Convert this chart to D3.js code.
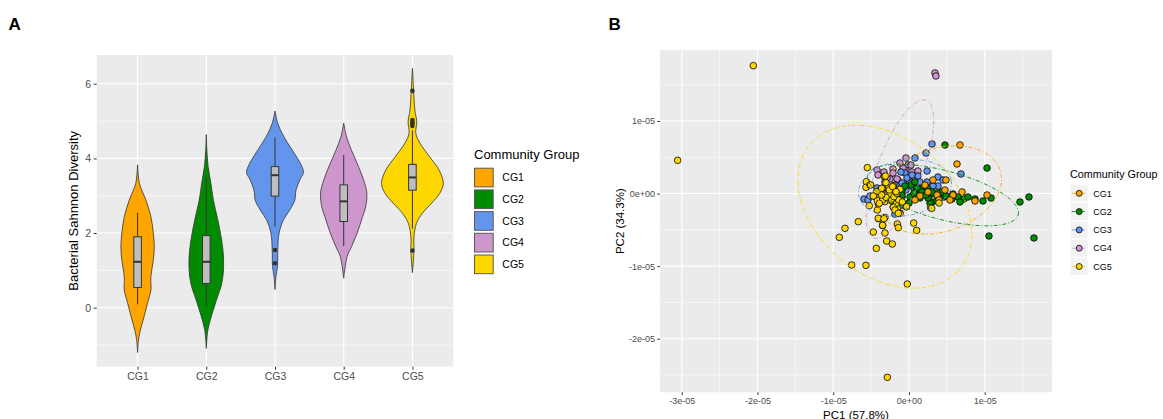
<!DOCTYPE html>
<html><head><meta charset="utf-8">
<script src="https://cdn.jsdelivr.net/npm/d3@7"></script>
<style>body{margin:0;background:#fff;} svg{display:block;}</style>
</head><body><svg id="c" width="1163" height="419"></svg>
<script>
// ---------------- DATA ----------------
const groups = ["CG1","CG2","CG3","CG4","CG5"];
const groupColors = ["#FFA500","#008B00","#6495ED","#CD96CD","#FFD700"];

// Panel A: violin profiles [shannon value, relative half-width]
const profileCG1 = [[3.83,0],[3.33,0.06],[2.88,0.27],[2.44,0.43],[1.99,0.51],[1.63,0.54],[1.28,0.51],[0.83,0.43],[0.47,0.43],[0.12,0.32],[-0.24,0.21],[-0.6,0.09],[-0.86,0.03],[-1.2,0]];
const profileCG2 = [[4.64,0],[4.2,0.02],[3.78,0.06],[3.33,0.15],[2.88,0.23],[2.44,0.35],[1.99,0.46],[1.54,0.54],[1.10,0.56],[0.65,0.50],[0.21,0.33],[-0.24,0.16],[-0.6,0.05],[-1.09,0]];
const profileCG3 = [[5.27,0],[4.94,0.09],[4.67,0.23],[4.40,0.42],[4.04,0.70],[3.78,0.87],[3.62,0.92],[3.42,0.80],[3.15,0.68],[2.88,0.64],[2.62,0.48],[2.35,0.27],[1.99,0.13],[1.54,0.09],[1.10,0.08],[0.83,0.03],[0.49,0]];
const profileCG4 = [[4.95,0],[4.58,0.09],[4.22,0.25],[3.78,0.48],[3.33,0.68],[3.06,0.75],[2.70,0.71],[2.44,0.61],[1.99,0.43],[1.63,0.25],[1.37,0.11],[0.79,0]];
const profileCG5 = [[6.41,0],[5.81,0.04],[5.29,0.08],[4.98,0.14],[4.67,0.11],[4.40,0.25],[4.04,0.56],[3.69,0.86],[3.33,1.0],[3.06,0.88],[2.80,0.62],[2.53,0.32],[2.26,0.13],[1.90,0.05],[1.53,0.05],[0.94,0]];

const whiskerLow  = [0.09, 0.05, 2.17, 1.65, 2.12];
const boxQ1       = [0.54, 0.65, 2.99, 2.31, 3.15];
const boxMedian   = [1.23, 1.23, 3.55, 2.85, 3.49];
const boxQ3       = [1.90, 1.93, 3.78, 3.29, 3.84];
const whiskerHigh = [2.54, 3.51, 4.56, 4.09, 4.75];
const outliers = [["CG3",1.545],["CG3",1.19],["CG5",5.81],["CG5",5.03],["CG5",4.97],["CG5",4.92],["CG5",4.87],["CG5",1.53]];

const yTicksA = [0,2,4,6];
const yMinorA = [-1,1,3,5];

// Panel B: PCA scores, units of 1e-05
const pointsCG4 = [[0.343,1.661],[0.356,1.620],[-0.040,0.490],[-0.013,0.393],[-0.422,0.325],[-0.409,0.256],[-0.211,0.339],[-0.053,0.325],[0.040,0.297],[0.119,0.311],[-0.251,0.201],[-0.145,0.187],[0.000,0.187],[-0.079,0.352],[0.026,0.393],[-0.211,0.283],[-0.290,0.215],[-0.158,0.201],[-0.330,0.297],[0.079,0.215],[-0.119,0.421]];
const pointsCG3 = [[0.304,0.683],[0.224,0.559],[0.079,0.490],[0.238,0.311],[0.119,0.242],[-0.053,0.283],[-0.106,0.297],[0.383,0.228],[0.449,0.187],[0.686,0.270],[0.383,0.104],[0.317,0.104],[0.238,0.159],[0.145,0.159],[0.013,0.146],[-0.092,0.146],[-0.185,0.118],[-0.251,0.049],[-0.317,0.077],[-0.211,0.022],[-0.145,-0.020],[-0.092,-0.047],[-0.224,-0.047],[-0.594,-0.075],[-0.541,-0.088],[-0.422,0.077],[-0.383,0.049],[-0.185,-0.282],[-0.119,-0.268],[-0.092,-0.158],[0.053,0.091],[-0.026,0.215],[0.040,0.256],[-0.317,0.159],[-0.343,0.077],[0.040,-0.033],[0.145,-0.006],[0.211,0.049],[-0.515,-0.033],[-0.040,0.049]];
const pointsCG2 = [[0.475,0.669],[1.030,0.352],[1.584,-0.047],[1.465,-0.116],[1.056,-0.585],[1.650,-0.612],[0.977,-0.102],[1.083,-0.061],[0.871,-0.075],[0.726,-0.075],[0.647,-0.047],[0.528,-0.047],[0.462,-0.047],[0.383,-0.047],[0.436,0.022],[0.370,0.008],[0.304,-0.006],[0.304,-0.116],[0.370,-0.102],[0.119,0.063],[0.185,0.077],[0.238,0.077],[0.304,0.022],[0.488,-0.033],[0.026,0.118],[-0.092,0.049],[0.106,0.077],[0.172,0.022],[0.013,-0.047],[0.000,-0.130],[0.277,-0.130],[0.145,-0.061],[0.251,-0.061],[-0.185,-0.047],[-0.092,-0.020],[0.581,-0.006],[0.779,-0.047],[0.224,-0.020],[0.066,0.008],[-0.053,0.104],[-0.251,0.008],[0.568,-0.075],[0.673,-0.116],[0.079,0.160]];
const pointsCG1 = [[0.673,0.669],[0.634,0.407],[0.488,0.187],[0.581,-0.020],[1.030,-0.020],[0.871,-0.102],[0.251,0.022],[0.370,-0.020],[0.396,-0.088],[0.145,-0.033],[0.475,0.049],[0.700,0.022],[0.541,-0.088],[0.079,-0.088],[0.211,0.118],[0.317,0.187]];
const pointsCG5 = [[-2.055,1.762],[-3.054,0.458],[-0.286,-2.532],[-0.550,0.357],[-0.845,-0.479],[-0.920,-0.603],[-0.669,-0.387],[-0.757,-0.984],[-0.568,-0.989],[-0.022,-1.246],[-0.431,-0.755],[-0.295,-0.654],[-0.220,-0.695],[-0.317,-0.543],[-0.471,-0.530],[-0.348,-0.442],[-0.400,-0.346],[-0.317,-0.328],[-0.154,-0.419],[-0.141,-0.470],[0.062,-0.406],[0.101,-0.507],[0.286,-0.194],[0.396,-0.130],[-0.040,-0.181],[-0.563,0.164],[-0.568,0.086],[-0.515,0.118],[-0.418,-0.226],[-0.405,-0.144],[-0.427,0.026],[-0.383,-0.065],[-0.317,-0.112],[-0.251,-0.089],[-0.326,0.232],[-0.304,0.150],[-0.207,-0.181],[-0.154,-0.203],[-0.119,-0.089],[-0.295,-0.020],[-0.238,-0.065],[-0.163,-0.020],[-0.119,-0.272],[-0.273,0.073],[-0.251,-0.006],[-0.229,-0.088],[-0.163,-0.134],[-0.207,-0.189],[-0.136,-0.088],[-0.088,-0.116],[-0.119,0.059],[-0.185,-0.226],[-0.348,-0.437],[-0.031,-0.181],[-0.207,0.108],[-0.260,0.049],[-0.360,0.073],[-0.449,-0.043],[-0.418,-0.102],[-0.348,-0.088],[-0.392,-0.134],[-0.304,-0.051],[-0.198,-0.043],[-0.163,0.004],[-0.506,0.118],[-0.471,-0.033],[-0.524,-0.167],[-0.405,-0.341],[-0.330,-0.346],[-0.312,0.242],[-0.360,-0.020],[-0.216,0.095],[-0.172,0.026],[-0.141,-0.272],[0.300,-0.203]];

// 95% ellipses per group: centre x, centre y, semi-axes, rotation (deg), units of 1e-05
const ellipseCX = [0.409, 0.449, -0.053, -0.119, -0.317];
const ellipseCY = [0.049, -0.020, 0.077, 0.338, -0.181];
const ellipseA  = [0.84, 1.03, 0.62, 1.01, 1.31];
const ellipseB  = [0.57, 0.335, 0.38, 0.30, 0.93];
const ellipseRot= [20, -15.5, 10, 70, -43];

const xTicksB = [-3,-2,-1,0,1];
const xTickLabelsB = ["-3e-05","-2e-05","-1e-05","0e+00","1e-05"];
const xMinorB = [-2.5,-1.5,-0.5,0.5,1.5];
const yTicksB = [-2,-1,0,1];
const yTickLabelsB = ["-2e-05","-1e-05","0e+00","1e-05"];
const yMinorB = [-2.5,-1.5,-0.5,0.5,1.5];

// ---------------- DRAW ----------------
const FONT = "'Liberation Sans', Arial, Helvetica, sans-serif";
const svg = d3.select("#c").attr("font-family", FONT);

// Panel letters
svg.append("text").attr("x",8.5).attr("y",29.5).attr("font-size",17).attr("font-weight","bold").text("A");
svg.append("text").attr("x",608.5).attr("y",29.5).attr("font-size",17).attr("font-weight","bold").text("B");

function styleAxis(g, fs){
  g.attr("font-family", FONT);
  g.select(".domain").remove();
  g.selectAll(".tick line").attr("stroke","#333333").attr("stroke-width",1);
  g.selectAll(".tick text").attr("fill","#4D4D4D").attr("font-size",fs);
}

// ===== Panel A =====
const PA = {l:96.7, r:453.3, t:55, b:366.7};
const xA = d3.scalePoint().domain(groups).range([PA.l, PA.r]).padding(0.595);
const yA = d3.scaleLinear().domain([-1.58, 6.77]).range([PA.b, PA.t]);
const gA = svg.append("g");
gA.append("rect").attr("x",PA.l).attr("y",PA.t).attr("width",PA.r-PA.l).attr("height",PA.b-PA.t).attr("fill","#EBEBEB");
gA.selectAll("line.ymin").data(yMinorA).enter().append("line")
  .attr("x1",PA.l).attr("x2",PA.r).attr("y1",d=>yA(d)).attr("y2",d=>yA(d)).attr("stroke","#fff").attr("stroke-width",0.55);
gA.selectAll("line.ymaj").data(yTicksA).enter().append("line")
  .attr("x1",PA.l).attr("x2",PA.r).attr("y1",d=>yA(d)).attr("y2",d=>yA(d)).attr("stroke","#fff").attr("stroke-width",1.1);
gA.selectAll("line.xmaj").data(groups).enter().append("line")
  .attr("y1",PA.t).attr("y2",PA.b).attr("x1",d=>xA(d)).attr("x2",d=>xA(d)).attr("stroke","#fff").attr("stroke-width",1.1);

const profiles = [profileCG1, profileCG2, profileCG3, profileCG4, profileCG5];
const hw = d3.scaleLinear().domain([0,1]).range([0, xA.step()*0.45]);
const boxW = xA.step()*0.11;
groups.forEach((g,i)=>{
  const cx = xA(g);
  const area = d3.area().curve(d3.curveCatmullRom.alpha(0.5))
    .y(d=>yA(d[0])).x0(d=>cx-hw(d[1])).x1(d=>cx+hw(d[1]));
  gA.append("path").attr("d", area(profiles[i])).attr("fill", groupColors[i])
    .attr("stroke","#333333").attr("stroke-width",0.8);
  gA.append("line").attr("x1",cx).attr("x2",cx).attr("y1",yA(whiskerLow[i])).attr("y2",yA(boxQ1[i])).attr("stroke","#333333").attr("stroke-width",1);
  gA.append("line").attr("x1",cx).attr("x2",cx).attr("y1",yA(boxQ3[i])).attr("y2",yA(whiskerHigh[i])).attr("stroke","#333333").attr("stroke-width",1);
  gA.append("rect").attr("x",cx-boxW/2).attr("width",boxW).attr("y",yA(boxQ3[i])).attr("height",yA(boxQ1[i])-yA(boxQ3[i]))
    .attr("fill","#BEBEBE").attr("stroke","#333333").attr("stroke-width",1);
  gA.append("line").attr("x1",cx-boxW/2).attr("x2",cx+boxW/2).attr("y1",yA(boxMedian[i])).attr("y2",yA(boxMedian[i])).attr("stroke","#333333").attr("stroke-width",2);
});
gA.selectAll("circle.out").data(outliers).enter().append("circle")
  .attr("cx",d=>xA(d[0])).attr("cy",d=>yA(d[1])).attr("r",2.3).attr("fill","#333333");

const axAy = gA.append("g").attr("transform",`translate(${PA.l},0)`)
  .call(d3.axisLeft(yA).tickValues(yTicksA).tickSize(3).tickPadding(2.5).tickFormat(d3.format("d")));
styleAxis(axAy, 10.5);
const axAx = gA.append("g").attr("transform",`translate(0,${PA.b})`)
  .call(d3.axisBottom(xA).tickSize(3).tickPadding(2.5));
styleAxis(axAx, 10.5);
gA.append("text").attr("transform",`translate(77.5,${(PA.t+PA.b)/2}) rotate(-90)`).attr("text-anchor","middle")
  .attr("font-size",13).attr("fill","#000").text("Bacterial Sahnnon Diversity");

// Legend A
const LA = {x:474, y:167.7, step:21.7, size:19.7};
gA.append("text").attr("x",LA.x).attr("y",159).attr("font-size",13).text("Community Group");
groups.forEach((g,i)=>{
  const y0 = LA.y + i*LA.step;
  gA.append("rect").attr("x",LA.x+0.5).attr("y",y0+0.5).attr("width",LA.size-1).attr("height",LA.size-1)
    .attr("fill",groupColors[i]).attr("stroke","#5A5A5A").attr("stroke-width",1);
  gA.append("text").attr("x",502.3).attr("y",y0+LA.size/2).attr("dy","0.36em").attr("font-size",10.5).text(g);
});

// ===== Panel B =====
const PB = {l:660, r:1052, t:50, b:392.3};
const xB = d3.scaleLinear().domain([-3.287, 1.888]).range([PB.l, PB.r]);
const yB = d3.scaleLinear().domain([-2.738, 1.978]).range([PB.b, PB.t]);
const gB = svg.append("g");
gB.append("rect").attr("x",PB.l).attr("y",PB.t).attr("width",PB.r-PB.l).attr("height",PB.b-PB.t).attr("fill","#EBEBEB");
gB.selectAll("line.xmin").data(xMinorB).enter().append("line")
  .attr("y1",PB.t).attr("y2",PB.b).attr("x1",d=>xB(d)).attr("x2",d=>xB(d)).attr("stroke","#fff").attr("stroke-width",0.55);
gB.selectAll("line.ymin").data(yMinorB).enter().append("line")
  .attr("x1",PB.l).attr("x2",PB.r).attr("y1",d=>yB(d)).attr("y2",d=>yB(d)).attr("stroke","#fff").attr("stroke-width",0.55);
gB.selectAll("line.xmaj").data(xTicksB).enter().append("line")
  .attr("y1",PB.t).attr("y2",PB.b).attr("x1",d=>xB(d)).attr("x2",d=>xB(d)).attr("stroke","#fff").attr("stroke-width",1.1);
gB.selectAll("line.ymaj").data(yTicksB).enter().append("line")
  .attr("x1",PB.l).attr("x2",PB.r).attr("y1",d=>yB(d)).attr("y2",d=>yB(d)).attr("stroke","#fff").attr("stroke-width",1.1);

const pointSets = [pointsCG1, pointsCG2, pointsCG3, pointsCG4, pointsCG5];
const drawOrder = [3,2,1,0,4];
drawOrder.forEach(i=>{
  gB.selectAll(null).data(pointSets[i]).enter().append("circle")
    .attr("cx",d=>xB(d[0])).attr("cy",d=>yB(d[1])).attr("r",3.3)
    .attr("fill",groupColors[i]).attr("stroke","#000").attr("stroke-width",0.8);
});

const DASH = "4,2,1,2";
const lineGen = d3.line().x(d=>xB(d[0])).y(d=>yB(d[1]));
groups.forEach((g,i)=>{
  const th = ellipseRot[i]*Math.PI/180;
  const pts = d3.range(0,361,3).map(t=>{
    const r = t*Math.PI/180;
    return [ellipseCX[i] + ellipseA[i]*Math.cos(r)*Math.cos(th) - ellipseB[i]*Math.sin(r)*Math.sin(th),
            ellipseCY[i] + ellipseA[i]*Math.cos(r)*Math.sin(th) + ellipseB[i]*Math.sin(r)*Math.cos(th)];
  });
  gB.append("path").attr("d",lineGen(pts)).attr("fill","none").attr("stroke",groupColors[i])
    .attr("stroke-width",0.9).attr("stroke-dasharray",DASH);
});

const axBx = gB.append("g").attr("transform",`translate(0,${PB.b})`)
  .call(d3.axisBottom(xB).tickValues(xTicksB).tickSize(2.7).tickPadding(2.2).tickFormat((d,i)=>xTickLabelsB[i]));
styleAxis(axBx, 9);
const axBy = gB.append("g").attr("transform",`translate(${PB.l},0)`)
  .call(d3.axisLeft(yB).tickValues(yTicksB).tickSize(2.7).tickPadding(2.2).tickFormat((d,i)=>yTickLabelsB[i]));
styleAxis(axBy, 9);
gB.append("text").attr("x",(PB.l+PB.r)/2).attr("y",418.5).attr("text-anchor","middle").attr("font-size",11.5).text("PC1 (57.8%)");
gB.append("text").attr("transform",`translate(624,${(PB.t+PB.b)/2}) rotate(-90)`).attr("text-anchor","middle")
  .attr("font-size",11.5).text("PC2 (34.3%)");

// Legend B
const LB = {x:1070.7, y0:193.3, step:18.3, size:17};
gB.append("text").attr("x",1070).attr("y",178).attr("font-size",10.8).text("Community Group");
groups.forEach((g,i)=>{
  const cy = LB.y0 + i*LB.step;
  gB.append("rect").attr("x",LB.x).attr("y",cy-LB.size/2).attr("width",LB.size).attr("height",LB.size).attr("fill","#F2F2F2");
  gB.append("line").attr("x1",LB.x+1).attr("x2",LB.x+LB.size-1).attr("y1",cy).attr("y2",cy)
    .attr("stroke",groupColors[i]).attr("stroke-width",0.9).attr("stroke-dasharray",DASH);
  gB.append("circle").attr("cx",LB.x+LB.size/2).attr("cy",cy).attr("r",3).attr("fill",groupColors[i]).attr("stroke","#000").attr("stroke-width",0.8);
  gB.append("text").attr("x",1093.3).attr("y",cy).attr("dy","0.36em").attr("font-size",9).text(g);
});
</script></body></html>
